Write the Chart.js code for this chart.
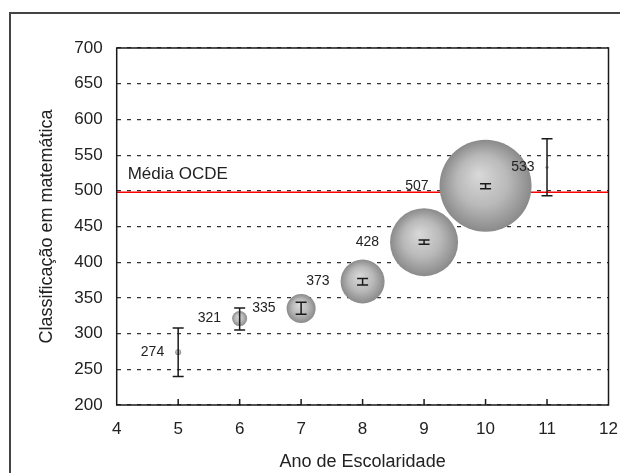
<!DOCTYPE html>
<html>
<head>
<meta charset="utf-8">
<script src="https://cdn.jsdelivr.net/npm/chart.js@4/dist/chart.umd.min.js"></script>
<style>
  body { margin: 0; background: #fff; }
</style>
</head>
<body>
<canvas id="myChart" width="620" height="473"></canvas>
<script>
// ===== data =====
var grades = [5, 6, 7, 8, 9, 10, 11];
var scores = [274, 321, 335, 373, 428, 507, 533];
var errLow = [240, 305, 327, 368, 425, 503, 493];
var errHigh = [308, 336, 344, 377, 431, 510, 573];
var bubbleSize = [3, 7.5, 14.5, 22, 34, 46, 1.5];
var oecdMean = 498;
var oecdLabel = 'Média OCDE';
var xTicks = [4, 5, 6, 7, 8, 9, 10, 11, 12];
var yTicks = [200, 250, 300, 350, 400, 450, 500, 550, 600, 650, 700];

var FONT = '"Liberation Sans", Arial, sans-serif';

var points = grades.map(function (g, i) {
  return { x: g, y: scores[i], r: bubbleSize[i] };
});

// grey shaded ball
function ballFill(c) {
  var chart = c.chart;
  if (!chart.chartArea || !c.raw) return '#aaa';
  var px = chart.scales.x.getPixelForValue(c.raw.x);
  var py = chart.scales.y.getPixelForValue(c.raw.y);
  var r = c.raw.r;
  var g = chart.ctx.createRadialGradient(px - r * 0.15, py - r * 0.25, 0, px, py, r);
  g.addColorStop(0, '#d9d9d9');
  g.addColorStop(0.55, '#b9b9b9');
  g.addColorStop(1, '#8a8a8a');
  return g;
}

var extras = {
  id: 'extras',
  beforeDraw: function (chart) {
    var ctx = chart.ctx;
    // outer frame (only left and top visible)
    ctx.save();
    ctx.strokeStyle = '#444';
    ctx.lineWidth = 2;
    ctx.beginPath();
    ctx.moveTo(10, 473);
    ctx.lineTo(10, 13);
    ctx.lineTo(620, 13);
    ctx.stroke();
    ctx.restore();
  },
  beforeDatasetsDraw: function (chart) {
    var ctx = chart.ctx, a = chart.chartArea, ys = chart.scales.y;
    var yy = ys.getPixelForValue(oecdMean);
    ctx.save();
    ctx.strokeStyle = '#ff0000';
    ctx.lineWidth = 1.5;
    ctx.beginPath();
    ctx.moveTo(a.left, yy);
    ctx.lineTo(a.right, yy);
    ctx.stroke();
    ctx.fillStyle = '#222';
    ctx.font = '17px ' + FONT;
    ctx.textAlign = 'left';
    ctx.textBaseline = 'middle';
    ctx.fillText(oecdLabel, a.left + 11, yy - 18);
    ctx.restore();
  },
  afterDatasetsDraw: function (chart) {
    var ctx = chart.ctx, a = chart.chartArea;
    var xs = chart.scales.x, ys = chart.scales.y;
    ctx.save();
    // error bars
    ctx.strokeStyle = '#1a1a1a';
    ctx.lineWidth = 1.5;
    grades.forEach(function (g, i) {
      var px = xs.getPixelForValue(g);
      var lo = ys.getPixelForValue(errLow[i]);
      var hi = ys.getPixelForValue(errHigh[i]);
      ctx.beginPath();
      ctx.moveTo(px, lo); ctx.lineTo(px, hi);
      ctx.moveTo(px - 5.5, lo); ctx.lineTo(px + 5.5, lo);
      ctx.moveTo(px - 5.5, hi); ctx.lineTo(px + 5.5, hi);
      ctx.stroke();
    });
    // value labels, left of each ball
    ctx.fillStyle = '#222';
    ctx.font = '14px ' + FONT;
    ctx.textAlign = 'right';
    ctx.textBaseline = 'middle';
    grades.forEach(function (g, i) {
      var px = xs.getPixelForValue(g);
      var py = ys.getPixelForValue(scores[i]);
      ctx.fillText(String(scores[i]), px - bubbleSize[i] - 11, py);
    });
    // inner tick marks on x axis
    ctx.strokeStyle = '#1a1a1a';
    ctx.lineWidth = 1.5;
    xTicks.slice(1, -1).forEach(function (t) {
      var px = xs.getPixelForValue(t);
      ctx.beginPath();
      ctx.moveTo(px, a.bottom);
      ctx.lineTo(px, a.bottom - 6);
      ctx.stroke();
    });
    // plot frame
    ctx.lineWidth = 1.5;
    ctx.strokeRect(a.left, a.top, a.right - a.left, a.bottom - a.top);
    ctx.restore();
  }
};

var config = {
  type: 'bubble',
  data: {
    datasets: [
      {
        label: 'Classificação',
        data: points,
        backgroundColor: ballFill,
        borderWidth: 0,
        hoverBorderWidth: 0,
      },
    ],
  },
  options: {
    responsive: false,
    animation: false,
    events: [],
    layout: {
      autoPadding: false,
      padding: { left: 0, top: 48, right: 11.5, bottom: 0 },
    },
    plugins: {
      legend: { display: false },
      tooltip: { enabled: false },
    },
    scales: {
      x: {
        type: 'linear',
        min: 4,
        max: 12,
        afterBuildTicks: function (s) {
          s.ticks = xTicks.map(function (v) { return { value: v }; });
        },
        afterFit: function (s) {
          s.height = 68;
          s.paddingLeft = 0;
          s.paddingRight = 0;
        },
        grid: { display: false, drawTicks: false },
        border: { display: false },
        ticks: {
          padding: 14,
          color: '#222',
          font: { family: FONT, size: 17 },
        },
        title: {
          display: true,
          text: 'Ano de Escolaridade',
          color: '#222',
          font: { family: FONT, size: 18 },
          padding: { top: 0, bottom: 0 },
        },
      },
      y: {
        type: 'linear',
        min: 200,
        max: 700,
        afterBuildTicks: function (s) {
          s.ticks = yTicks.map(function (v) { return { value: v }; });
        },
        afterFit: function (s) {
          s.width = 116.7;
          s.paddingTop = 0;
          s.paddingBottom = 0;
        },
        grid: { color: '#333', lineWidth: 1.2, drawTicks: false },
        border: { display: false, dash: [4, 6] },
        ticks: {
          padding: 14,
          color: '#222',
          font: { family: FONT, size: 17 },
        },
        title: {
          display: true,
          text: 'Classificação em matemática',
          color: '#222',
          font: { family: FONT, size: 18 },
          padding: { top: 36, bottom: 0 },
        },
      },
    },
  },
  plugins: [extras],
};

var ctx = document.getElementById('myChart').getContext('2d');
var chart = new Chart(ctx, config);
</script>
</body>
</html>
